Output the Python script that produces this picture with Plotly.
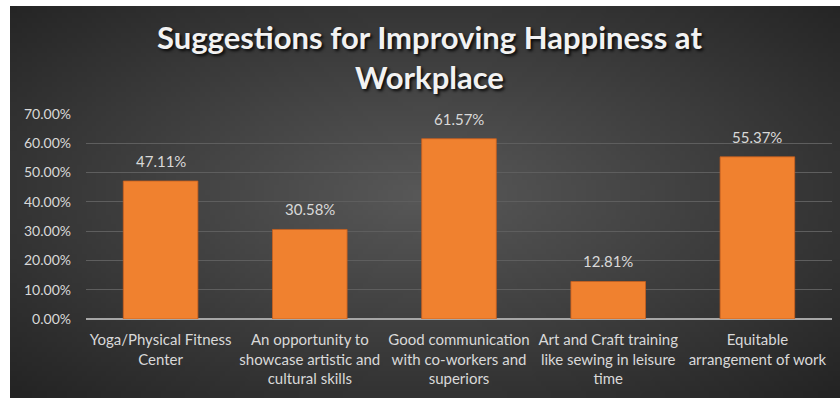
import base64
import math
import struct
import zlib

import plotly.graph_objects as go

# Survey results
categories = [
    "Yoga/Physical Fitness<br>Center",
    "An opportunity to<br>showcase artistic and<br>cultural skills",
    "Good communication<br>with co-workers and<br>superiors",
    "Art and Craft training<br>like sewing in leisure<br>time",
    "Equitable<br>arrangement of work",
]
shares = [0.4711, 0.3058, 0.6157, 0.1281, 0.5537]
value_labels = ["47.11%", "30.58%", "61.57%", "12.81%", "55.37%"]
y_ticks = [0, 0.1, 0.2, 0.3, 0.4, 0.5, 0.6, 0.7]
y_tick_labels = ["0.00%", "10.00%", "20.00%", "30.00%", "40.00%", "50.00%", "60.00%", "70.00%"]

W, H = 840, 398
FONT = "Lato"
TEXT_COLOR = "#d9d9d9"
LEFT_EDGE, TOP_EDGE = 10, 6  # white strip around the chart panel


def radial_panel_png(w, h, inner=(0x58, 0x58, 0x58), outer=(0x24, 0x24, 0x24)):
    """Small PNG with a radial grey gradient, stretched over the chart panel."""
    rows = []
    for j in range(h):
        row = bytearray([0])
        for i in range(w):
            dx = (i + 0.5) / w - 0.5
            dy = (j + 0.5) / h - 0.48
            t = min(1.0, math.hypot(dx / 0.5, dy / 0.5) / 1.414)
            row.extend(round(a + (b - a) * t) for a, b in zip(inner, outer))
        rows.append(bytes(row))
    raw = b"".join(rows)

    def chunk(tag, data):
        return (struct.pack(">I", len(data)) + tag + data
                + struct.pack(">I", zlib.crc32(tag + data) & 0xFFFFFFFF))

    png = (b"\x89PNG\r\n\x1a\n"
           + chunk(b"IHDR", struct.pack(">IIBBBBB", w, h, 8, 2, 0, 0, 0))
           + chunk(b"IDAT", zlib.compress(raw, 9))
           + chunk(b"IEND", b""))
    return "data:image/png;base64," + base64.b64encode(png).decode()


fig = go.Figure()

xs = list(range(len(categories)))
fig.add_trace(go.Bar(
    x=xs, y=shares, width=0.5,
    marker=dict(color="#F0812F", line=dict(color="#C8601E", width=0.8)),
    hoverinfo="skip", showlegend=False,
))

for xi, v, lab in zip(xs, shares, value_labels):
    fig.add_annotation(
        x=xi, y=v, xref="x", yref="y", text=lab, showarrow=False,
        yanchor="bottom", yshift=9,
        font=dict(family=FONT, size=15, color=TEXT_COLOR),
    )

# Chart title
fig.add_annotation(
    text="Suggestions for Improving Happiness at<br>Workplace",
    xref="paper", yref="paper", x=430 / W, y=1 - 57 / H,
    xanchor="center", yanchor="middle", showarrow=False,
    font=dict(family=FONT, size=31, color="#f2f2f2", weight="bold",
              shadow="2px 2px 3px rgba(0,0,0,0.85)"),
)

# Dark gradient panel behind everything
fig.add_layout_image(
    source=radial_panel_png(168, 80),
    xref="paper", yref="paper",
    x=LEFT_EDGE / W, y=1 - TOP_EDGE / H,
    sizex=1 - LEFT_EDGE / W, sizey=1 - TOP_EDGE / H,
    xanchor="left", yanchor="top", sizing="stretch", layer="below",
)

fig.update_layout(
    width=W, height=H,
    margin=dict(l=0, r=0, t=0, b=0, autoexpand=False),
    paper_bgcolor="white",
    plot_bgcolor="rgba(0,0,0,0)",
    xaxis=dict(
        domain=[86 / W, 832 / W], automargin=False,
        range=[-0.5, len(categories) - 0.5],
        tickmode="array", tickvals=xs, ticktext=categories,
        tickfont=dict(family=FONT, size=15, color=TEXT_COLOR),
        showgrid=False, zeroline=False, ticks="",
        showline=False, ticklabelstandoff=10,
    ),
    yaxis=dict(
        domain=[(H - 319) / H, (H - 114) / H], automargin=False,
        range=[0, 0.7],
        tickmode="array", tickvals=y_ticks, ticktext=y_tick_labels,
        tickfont=dict(family=FONT, size=14, color=TEXT_COLOR),
        showgrid=True, gridcolor="#5e5e5e", gridwidth=1,
        zeroline=True, zerolinecolor="#a6a6a6", zerolinewidth=1.5,
        ticks="", ticklabelstandoff=14,
    ),
)

fig.write_html("out.html")
